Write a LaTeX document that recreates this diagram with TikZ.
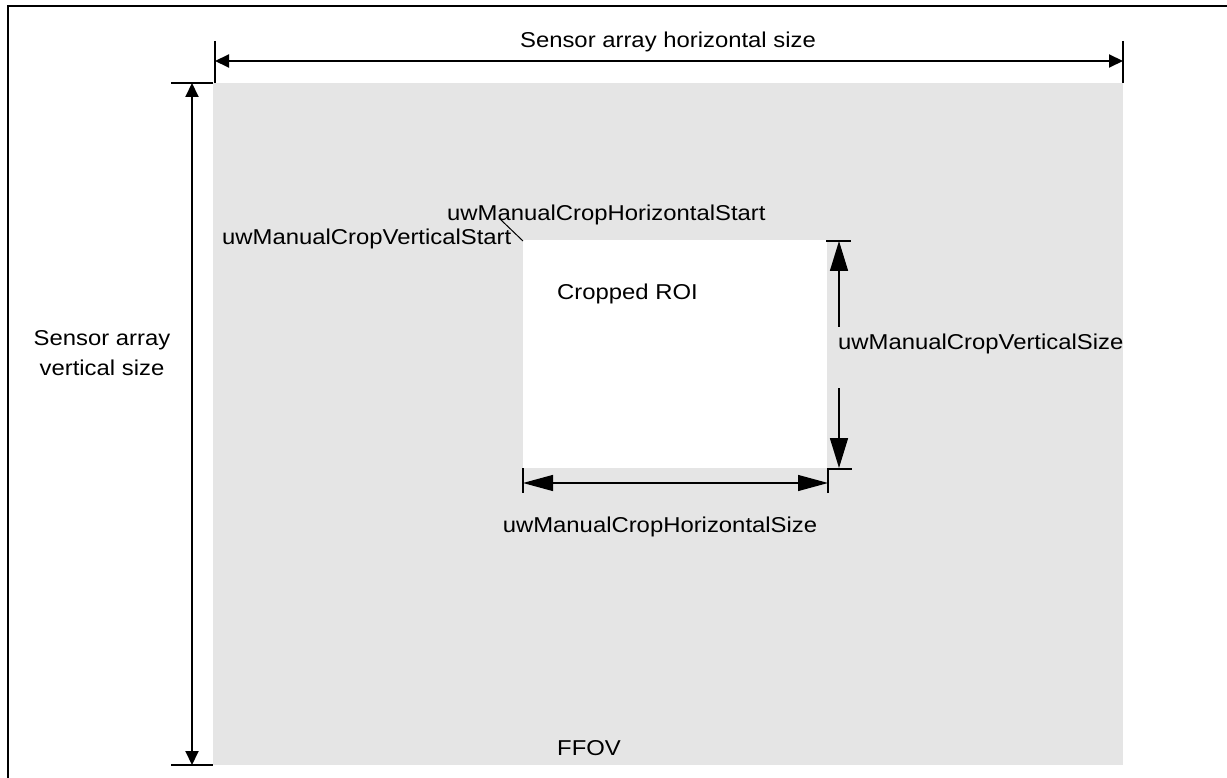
\documentclass[tikz,border=0pt]{standalone}
\usepackage{fontspec}
\usepackage{graphicx}
\setmainfont{Liberation Sans}
\usetikzlibrary{arrows.meta}
\definecolor{ffov}{RGB}{229,229,229}
\newcommand\stx[1]{\scalebox{1.11}[1]{#1}}
\begin{document}
\begin{tikzpicture}[x=1pt,y=-1pt,
  lbl/.style={inner sep=0pt, font=\fontsize{21.5}{25}\selectfont},
  tick/.style={line width=2pt},
  dimarrow/.style={line width=2pt},
  bigtip/.style={line width=1.6pt},
]
\useasboundingbox (0,0) rectangle (1227,778);
\fill[white] (0,0) rectangle (1227,778);
\draw[line width=2pt] (1227,6) -- (8,6) -- (8,778);
% areas
\fill[ffov] (213,83) rectangle (1123,765);
\fill[white] (523,240) rectangle (827,468);
% horizontal sensor dimension
\coordinate (hl) at (215,61);
\coordinate (hr) at (1123,61);
\coordinate (hlt) at (215,41); \coordinate (hlb) at (215,83);
\coordinate (hrt) at (1123,41); \coordinate (hrb) at (1123,83);
\draw[tick] (hlt) -- (hlb);
\draw[tick] (hrt) -- (hrb);
\draw[dimarrow,{Triangle[length=14pt,width=13pt]}-{Triangle[length=14pt,width=13pt]}] (hl) -- (hr);
% vertical sensor dimension
\coordinate (vt) at (192,83);
\coordinate (vb) at (192,765);
\coordinate (vtl) at (171,83); \coordinate (vtr) at (213,83);
\coordinate (vbl) at (171,765); \coordinate (vbr) at (213,765);
\draw[tick] (vtl) -- (vtr);
\draw[tick] (vbl) -- (vbr);
\draw[dimarrow,{Triangle[length=14pt,width=13pt]}-{Triangle[length=14pt,width=13pt]}] (vt) -- (vb);
% crop vertical size
\coordinate (cvt) at (839,241);
\coordinate (cvtm) at (839,327);
\coordinate (cvbm) at (839,388);
\coordinate (cvb) at (839,468);
\coordinate (cvtl) at (826,241); \coordinate (cvtr) at (851,241);
\draw[tick] (cvtl) -- (cvtr);
\draw[bigtip,{Triangle[length=30pt,width=18pt]}-] (cvt) -- (cvtm);
\draw[bigtip,-{Triangle[length=30pt,width=18pt]}] (cvbm) -- (cvb);
% crop horizontal size
\coordinate (chl) at (523,483);
\coordinate (chr) at (828,483);
\coordinate (chlt) at (523,468); \coordinate (chlb) at (523,493);
\coordinate (chrc) at (828,469); \coordinate (chrb) at (828,493);
\coordinate (chre) at (852,469);
\draw[tick] (chlt) -- (chlb);
\draw[tick] (chrb) -- (chrc) -- (chre);
\draw[line width=1.3pt,{Triangle[length=30pt,width=16pt]}-{Triangle[length=30pt,width=16pt]}] (chl) -- (chr);
% start leader
\coordinate (sl1) at (500,219);
\coordinate (sl2) at (523,241);
\draw[line width=1pt] (sl1) -- (sl2);
% labels
\node[lbl,anchor=base] (th) at (668,48) {\stx{Sensor array horizontal size}};
\node[lbl,anchor=base] (tv1) at (102,345) {\stx{Sensor array}};
\node[lbl,anchor=base] (tv2) at (102,375) {\stx{vertical size}};
\node[lbl,anchor=base west] (ths) at (447,221) {\stx{uwManualCropHorizontalStart}};
\node[lbl,anchor=base west] (tvs) at (222,245) {\stx{uwManualCropVerticalStart}};
\node[lbl,anchor=base west] (roi) at (557,300) {\stx{Cropped ROI}};
\node[lbl,anchor=base west] (tvz) at (838,349) {\stx{uwManualCropVerticalSize}};
\node[lbl,anchor=base] (thz) at (660,532) {\stx{uwManualCropHorizontalSize}};
\node[lbl,anchor=base west] (ffov) at (557,755) {\stx{FFOV}};
\end{tikzpicture}
\end{document}
